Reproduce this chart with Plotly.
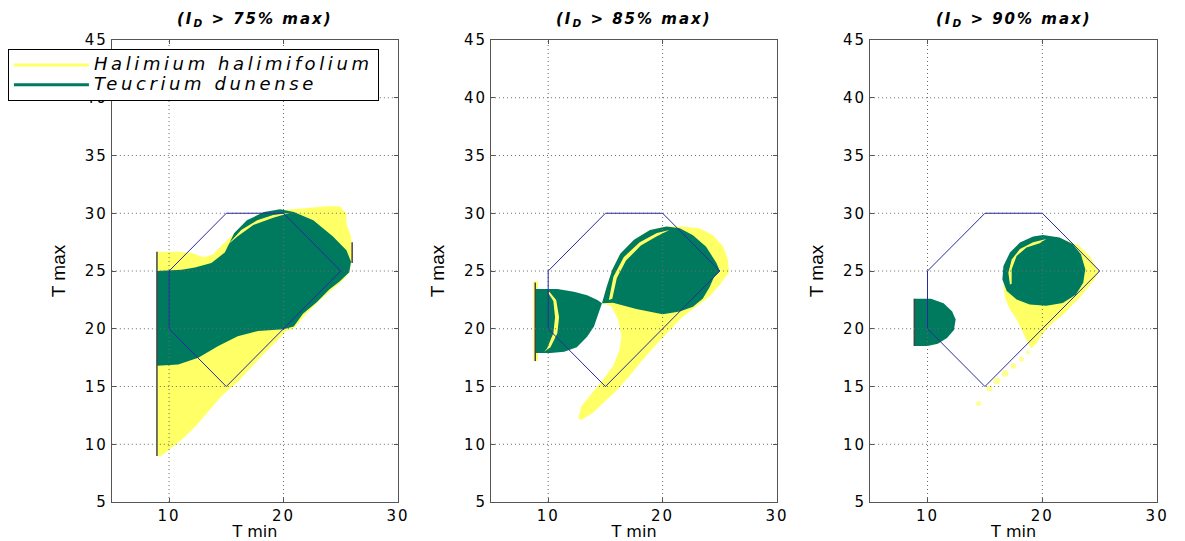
import plotly.graph_objects as go

# ---------------- data ----------------
panel_titles = ["(I<sub>D</sub> > 75% max)", "(I<sub>D</sub> > 85% max)", "(I<sub>D</sub> > 90% max)"]
species = ["Halimium halimifolium", "Teucrium dunense"]
x_ticks = [10, 20, 30]
y_ticks = [5, 10, 15, 20, 25, 30, 35, 40, 45]
x_range = [5, 30]
y_range = [5, 45]

# reference hexagon (T min, T max)
hex_x = [10, 10, 15, 20, 25, 15, 10]
hex_y = [20, 25, 30, 30, 25, 15, 20]

# ---- panel 1 (75%) ----
p1_yellow_x = [8.94, 8.94, 10.8, 12.0, 13.0, 13.8, 14.5, 15.45, 16.55, 18.0, 20.0, 21.4, 23.7, 24.9, 25.5, 25.5,
               25.9, 26.0, 25.75, 25.2, 24.3, 23.2, 22.0, 20.9, 20.2, 19.5, 18.35, 17.2, 16.0, 15.16, 14.43, 13.4,
               12.26, 11.1, 10.0, 9.36, 8.94]
p1_yellow_y = [8.99, 26.66, 26.66, 26.55, 26.2, 26.4, 27.1, 28.0, 29.1, 30.0, 30.3, 30.4, 30.6, 30.6, 30.0, 29.1,
               28.0, 26.0, 24.9, 24.2, 23.4, 22.5, 21.3, 20.0, 19.8, 19.0, 17.9, 16.7, 15.4, 14.7, 14.0, 12.8,
               11.5, 10.4, 9.5, 9.0, 8.99]
p1_green_x = [8.94, 8.94, 11.1, 12.26, 13.7, 14.87, 15.7, 16.8, 18.3, 19.7, 20.9, 22.6, 24.3, 25.5, 25.9, 25.75,
              24.9, 24.0, 22.9, 21.7, 20.9, 20.0, 17.77, 16.0, 14.3, 12.55, 10.8, 8.94]
p1_green_y = [16.8, 25.0, 25.1, 25.3, 25.7, 26.6, 28.3, 29.4, 30.1, 30.35, 30.1, 29.4, 28.0, 26.8, 25.8, 24.9,
              24.1, 23.4, 22.3, 21.3, 20.2, 19.95, 19.8, 19.35, 18.5, 17.5, 16.9, 16.8]
p1_crescent_x = [15.1, 16.3, 17.7, 19.1, 20.6, 19.1, 17.4, 16.0, 15.1]
p1_crescent_y = [27.25, 28.55, 29.4, 29.85, 30.05, 29.6, 29.0, 28.0, 27.25]
p1_edge_x = [[8.94, 8.94], [26.0, 26.0]]
p1_edge_y = [[8.99, 26.66], [25.7, 27.5]]

# ---- panel 2 (85%) ----
p2_yellow_x = [20.35, 21.8, 23.2, 24.4, 25.3, 25.7, 25.8, 25.4, 25.0, 24.1, 23.0, 21.7, 20.56, 19.4, 18.24, 17.1,
               15.95, 15.1, 13.9, 12.9, 12.63, 12.9, 13.8, 14.8, 15.66, 16.24, 16.4, 16.1, 15.5, 14.7, 15.1, 15.6,
               16.3, 17.5, 18.9, 20.35]
p2_yellow_y = [28.85, 28.85, 28.7, 28.1, 27.1, 26.0, 24.9, 24.4, 23.8, 22.8, 22.0, 21.0, 19.8, 18.6, 17.3, 15.9,
               14.6, 13.85, 12.7, 12.1, 12.26, 13.3, 14.4, 15.6, 16.75, 18.2, 19.36, 20.8, 21.97, 22.2, 23.6, 25.1,
               26.5, 27.7, 28.55, 28.85]
p2_yellow_strip_x = [8.7, 9.1, 9.1, 8.7, 8.7]
p2_yellow_strip_y = [17.2, 17.2, 24.1, 24.1, 17.2]
p2_green_left_x = [8.87, 8.87, 10.8, 12.25, 13.4, 14.3, 14.7, 14.4, 14.0, 13.4, 12.5, 11.4, 10.2, 8.87]
p2_green_left_y = [17.9, 23.44, 23.44, 23.2, 22.9, 22.5, 22.2, 21.3, 20.2, 19.3, 18.4, 18.0, 17.9, 17.9]
p2_green_right_x = [14.7, 15.1, 15.6, 16.3, 17.5, 18.9, 20.35, 21.5, 22.65, 23.8, 24.7, 25.0, 24.5, 24.1, 23.5,
                    22.65, 21.5, 20.0, 17.7, 15.66, 14.7]
p2_green_right_y = [22.2, 23.6, 25.1, 26.5, 27.7, 28.55, 28.85, 28.7, 28.1, 27.1, 25.7, 25.0, 24.5, 23.6, 22.6,
                    21.9, 21.5, 21.25, 21.7, 22.26, 22.2]
p2_crescent_l_x = [10.1, 10.7, 10.95, 10.8, 10.2, 9.65, 9.9, 10.45, 10.6, 10.45, 10.0, 10.1]
p2_crescent_l_y = [23.2, 22.5, 21.0, 19.6, 18.4, 18.0, 18.3, 19.6, 21.0, 22.4, 23.1, 23.2]
p2_crescent_r_x = [15.3, 15.7, 16.6, 18.0, 19.5, 20.6, 19.5, 18.1, 16.8, 16.0, 15.6, 15.3]
p2_crescent_r_y = [22.5, 24.5, 26.2, 27.5, 28.3, 28.55, 28.0, 27.2, 25.9, 24.4, 22.6, 22.5]
p2_edge_x = [[8.87, 8.87]]
p2_edge_y = [[17.2, 24.0]]

# ---- panel 3 (90%) ----
p3_yellow_x = [20.34, 21.78, 23.2, 24.1, 24.66, 24.9, 24.66, 24.1, 23.36, 22.64, 21.78, 20.9, 20.06, 19.48, 19.05,
               18.76, 18.33, 17.76, 17.18, 16.75, 16.6, 20.34]
p3_yellow_y = [28.0, 27.76, 27.2, 26.3, 25.44, 25.0, 24.42, 23.7, 22.82, 22.1, 21.2, 20.5, 19.6, 18.75, 18.3,
               18.75, 19.6, 20.8, 21.66, 22.67, 23.7, 28.0]
p3_dots_x = [18.76, 18.19, 17.47, 16.75, 16.03, 15.4, 14.45]
p3_dots_y = [17.97, 17.35, 16.77, 16.13, 15.5, 14.83, 13.52]
p3_dots_size = [4, 5, 6, 7, 7, 6, 5]
p3_green_left_x = [8.85, 8.85, 10.3, 11.4, 12.15, 12.45, 12.3, 11.7, 10.9, 10.0, 8.85]
p3_green_left_y = [18.5, 22.6, 22.6, 22.2, 21.5, 20.8, 19.9, 19.2, 18.7, 18.5, 18.5]
p3_green_disk_x = [20.06, 21.5, 22.64, 23.36, 23.74, 23.56, 22.93, 21.78, 20.34, 18.9, 17.76, 16.9, 16.52, 16.61,
                   17.18, 18.05, 19.2, 20.06]
p3_green_disk_y = [28.11, 27.9, 27.33, 26.45, 25.15, 23.98, 22.97, 22.24, 22.0, 22.1, 22.53, 23.26, 24.27, 25.44,
                   26.6, 27.47, 27.99, 28.11]
p3_crescent_x = [17.18, 17.04, 17.33, 18.05, 19.2, 20.34, 19.77, 18.62, 17.76, 17.33, 17.33, 17.18]
p3_crescent_y = [23.84, 24.85, 26.0, 26.9, 27.5, 27.76, 27.4, 27.03, 26.3, 25.15, 23.9, 23.84]
p3_edge_x = [[8.85, 8.85]]
p3_edge_y = [[18.5, 22.6]]

# ---------------- style ----------------
YELLOW = "#FFFF66"
GREEN = "#007A5E"
HEXC = "#2A2AA0"
FONT = "DejaVu Sans"


def spaced(s, px, size=None):
    fs = f"font-size:{size}px;" if size else ""
    return f'<span style="{fs}letter-spacing:{px}px">{s}</span>'


W, H = 1185, 541
MT, MB = 40, 39
PH = H - MT - MB
BOTTOM = H - MB
x_domains = [[113 / W, 402 / W], [496 / W, 785 / W], [879 / W, 1169 / W]]

fig = go.Figure()

panels = [
    dict(yellow=[(p1_yellow_x, p1_yellow_y)], green=[(p1_green_x, p1_green_y)],
         crescents=[(p1_crescent_x, p1_crescent_y)], edges=(p1_edge_x, p1_edge_y), dots=None),
    dict(yellow=[(p2_yellow_x, p2_yellow_y), (p2_yellow_strip_x, p2_yellow_strip_y)],
         green=[(p2_green_left_x, p2_green_left_y), (p2_green_right_x, p2_green_right_y)],
         crescents=[(p2_crescent_l_x, p2_crescent_l_y), (p2_crescent_r_x, p2_crescent_r_y)],
         edges=(p2_edge_x, p2_edge_y), dots=None),
    dict(yellow=[(p3_yellow_x, p3_yellow_y)],
         green=[(p3_green_left_x, p3_green_left_y), (p3_green_disk_x, p3_green_disk_y)],
         crescents=[(p3_crescent_x, p3_crescent_y)], edges=(p3_edge_x, p3_edge_y),
         dots=(p3_dots_x, p3_dots_y, p3_dots_size)),
]

for i, p in enumerate(panels):
    xa = "x" if i == 0 else f"x{i+1}"
    ya = "y" if i == 0 else f"y{i+1}"
    for xs, ys in p["yellow"]:
        fig.add_trace(go.Scatter(x=xs, y=ys, fill="toself", fillcolor=YELLOW, mode="lines",
                                 line=dict(width=0, color=YELLOW), showlegend=False,
                                 hoverinfo="skip", xaxis=xa, yaxis=ya))
    if p["dots"] is not None:
        dx, dy, ds = p["dots"]
        fig.add_trace(go.Scatter(x=dx, y=dy, mode="markers",
                                 marker=dict(color=YELLOW, size=ds, line=dict(width=0)),
                                 showlegend=False, hoverinfo="skip", xaxis=xa, yaxis=ya))
    for xs, ys in p["green"]:
        fig.add_trace(go.Scatter(x=xs, y=ys, fill="toself", fillcolor=GREEN, mode="lines",
                                 line=dict(width=0, color=GREEN), showlegend=False,
                                 hoverinfo="skip", xaxis=xa, yaxis=ya))
    for xs, ys in p["crescents"]:
        fig.add_trace(go.Scatter(x=xs, y=ys, fill="toself", fillcolor=YELLOW, mode="lines",
                                 line=dict(width=0, color=YELLOW), showlegend=False,
                                 hoverinfo="skip", xaxis=xa, yaxis=ya))
    ex, ey = p["edges"]
    for xs, ys in zip(ex, ey):
        fig.add_trace(go.Scatter(x=xs, y=ys, mode="lines", line=dict(width=1.5, color="#444444"),
                                 showlegend=False, hoverinfo="skip", xaxis=xa, yaxis=ya))
    # dotted grid lines drawn over the regions
    gx, gy = [], []
    for t in x_ticks:
        if x_range[0] < t < x_range[1]:
            gx += [t, t, None]
            gy += [y_range[0], y_range[1], None]
    for t in y_ticks:
        if y_range[0] < t < y_range[1]:
            gx += [x_range[0], x_range[1], None]
            gy += [t, t, None]
    fig.add_trace(go.Scatter(x=gx, y=gy, mode="lines", line=dict(width=1, color="#6a6a6a", dash="1px,3px"),
                             showlegend=False, hoverinfo="skip", xaxis=xa, yaxis=ya))
    fig.add_trace(go.Scatter(x=hex_x, y=hex_y, mode="lines", line=dict(width=1, color=HEXC),
                             showlegend=False, hoverinfo="skip", xaxis=xa, yaxis=ya))

# legend entries
for name, col in zip(species, [YELLOW, GREEN]):
    fig.add_trace(go.Scatter(x=[None], y=[None], mode="lines", name=spaced(name, 3.6, 18),
                             line=dict(color=col, width=3), xaxis="x", yaxis="y"))

axis_common = dict(showline=True, linecolor="#555555", linewidth=1, mirror="ticks", ticks="inside",
                   ticklen=4, tickcolor="#555555", showgrid=False, zeroline=False,
                   tickfont=dict(family=FONT, size=15, color="black"), fixedrange=True)

layout = dict(width=W, height=H, margin=dict(l=0, r=0, t=MT, b=MB),
              plot_bgcolor="white", paper_bgcolor="white",
              legend=dict(x=8 / W, y=(BOTTOM - 49) / PH, xanchor="left", yanchor="top",
                          bgcolor="white", bordercolor="black", borderwidth=1,
                          font=dict(family=FONT, size=13, color="black", style="italic"),
                          itemwidth=75, tracegroupgap=0),
              annotations=[], showlegend=True)

for i in range(3):
    xk = "xaxis" if i == 0 else f"xaxis{i+1}"
    yk = "yaxis" if i == 0 else f"yaxis{i+1}"
    ya = "y" if i == 0 else f"y{i+1}"
    xa = "x" if i == 0 else f"x{i+1}"
    layout[xk] = dict(axis_common, domain=x_domains[i], range=x_range, tickvals=x_ticks,
                      ticktext=[spaced(str(t), 2) for t in x_ticks], anchor=ya,
                      title=dict(text="T min", font=dict(family=FONT, size=16, color="black"), standoff=4))
    layout[yk] = dict(axis_common, domain=[0, 1], range=y_range, tickvals=y_ticks,
                      ticktext=[spaced(str(t), 2) for t in y_ticks], anchor=xa,
                      title=dict(text="T max", font=dict(family="Liberation Sans Narrow, Liberation Sans", size=19,
                                                         color="black"), standoff=14))
    layout["annotations"].append(dict(text="<b><i>" + spaced(panel_titles[i], 2) + "</i></b>",
                                      xref="paper", yref="paper",
                                      x=sum(x_domains[i]) / 2, y=(BOTTOM - 20) / PH,
                                      xanchor="center", yanchor="middle", showarrow=False,
                                      font=dict(family=FONT, size=15, color="black")))

fig.update_layout(**layout)
fig.write_html("out.html", config={"displayModeBar": False},
               post_script="document.body.style.margin='0';document.body.style.overflow='hidden';")
